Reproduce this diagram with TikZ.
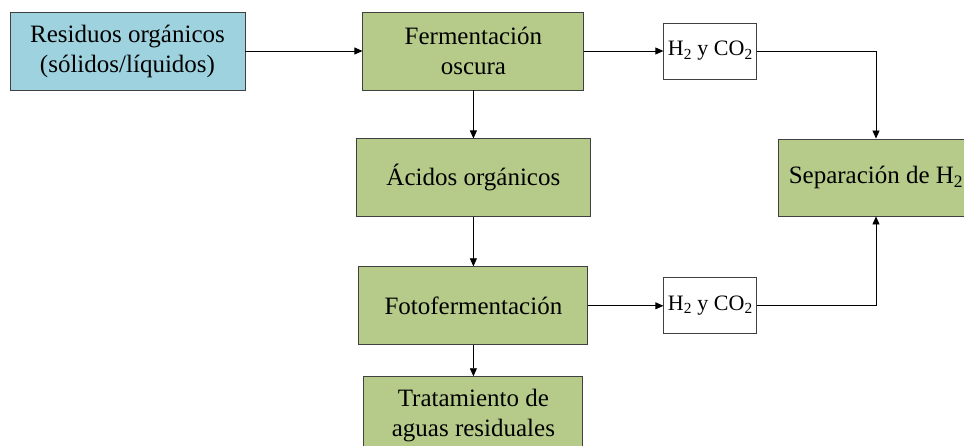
\documentclass[tikz,border=0pt]{standalone}
\usepackage{fontspec}
\setmainfont{Liberation Serif}
\usetikzlibrary{arrows.meta,positioning}
\definecolor{azul}{RGB}{157,210,222}
\definecolor{verde}{RGB}{182,203,138}
\tikzset{
>={Triangle[length=8pt,width=7pt]},
caja/.style={draw=black!75,line width=0.9pt,align=center,inner sep=2pt,
  font=\fontsize{25}{30}\selectfont},
entrada/.style={caja,fill=azul,minimum width=235pt,minimum height=78pt},
proceso/.style={caja,fill=verde,minimum height=78pt},
gas/.style={caja,fill=white,minimum width=93pt,minimum height=56pt,
  font=\fontsize{22}{26}\selectfont},
flecha/.style={->,line width=0.8pt}}

\begin{document}
\begin{tikzpicture}[x=1pt,y=1pt]

\clip (0,0) rectangle (964,-446);

\node[entrada] (res) at (127.5,-51) {Residuos orgánicos\\(sólidos/líquidos)};
\node[proceso,minimum width=221pt] (fer) [right=117pt of res] {Fermentación\\oscura};
\node[gas] (h2a) [right=79pt of fer] {H\textsubscript{2} y CO\textsubscript{2}};
\node[proceso,minimum width=234pt] (aci) [below=48pt of fer] {Ácidos orgánicos};
\node[proceso,minimum width=229pt] (fot) [below=49pt of aci] {Fotofermentación};
\node[gas] (h2b) [right=75pt of fot] {H\textsubscript{2} y CO\textsubscript{2}};
\node[proceso,minimum width=219pt] (tra) [below=31pt of fot] {Tratamiento de\\aguas residuales};
\node[proceso,minimum width=196pt,minimum height=77pt] (sep) at (876,-177.5) {Separación de H\textsubscript{2}};

\draw[flecha] (res) -- (fer);
\draw[flecha] (fer) -- (h2a);
\draw[flecha] (h2a.east) -| (sep.north);
\draw[flecha] (fer) -- (aci);
\draw[flecha] (aci) -- (fot);
\draw[flecha] (fot) -- (h2b);
\draw[flecha] (h2b.east) -| (sep.south);
\draw[flecha] (fot) -- (tra);
\end{tikzpicture}
\end{document}
